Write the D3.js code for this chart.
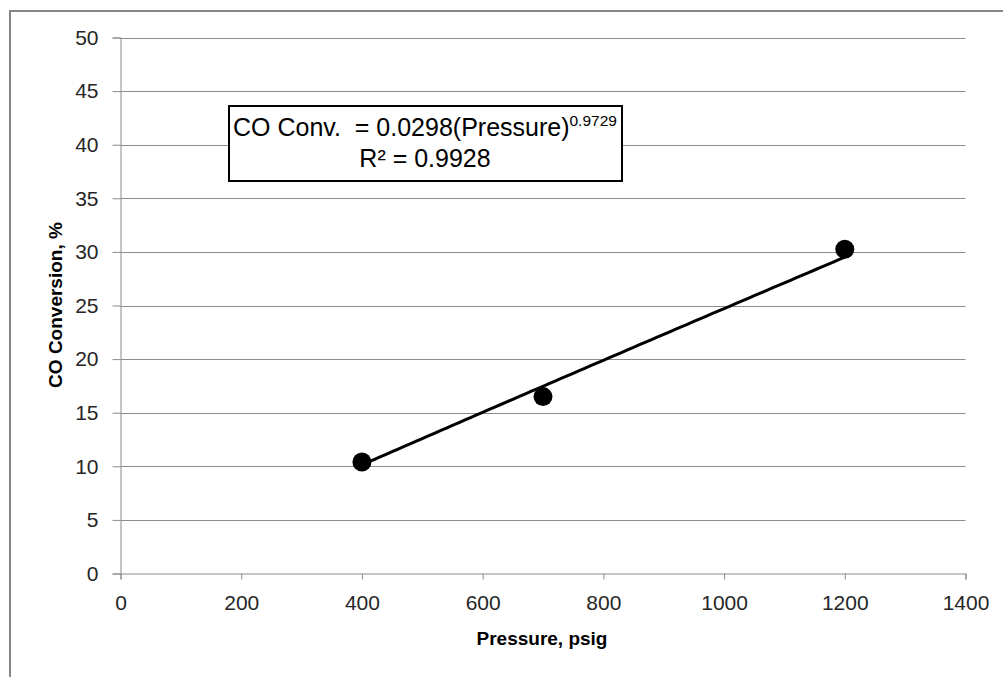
<!DOCTYPE html>
<html>
<head>
<meta charset="utf-8">
<script src="https://cdn.jsdelivr.net/npm/d3@7"></script>
<style>
  html, body { margin: 0; padding: 0; background: #fff; }
  svg { display: block; }
  text { font-family: "Liberation Sans", Arial, sans-serif; }
</style>
</head>
<body>
<script>
// ---- data ----
const pressure = [400, 700, 1200];
const conversion = [10.4, 16.5, 30.25];
const xTickValues = [0, 200, 400, 600, 800, 1000, 1200, 1400];
const yTickValues = [0, 5, 10, 15, 20, 25, 30, 35, 40, 45, 50];
const fitCoef = 0.0298;
const fitExp = 0.9729;
const rSquared = "0.9928";
const xTitle = "Pressure, psig";
const yTitle = "CO Conversion, %";

const W = 1003, H = 677;
const svg = d3.select("body").append("svg").attr("width", W).attr("height", H);

// outer chart border (only left & top visible)
svg.append("rect").attr("x", 10).attr("y", 11).attr("width", 1100).attr("height", 800)
  .attr("fill", "none").attr("stroke", "#868686").attr("stroke-width", 2);

const x = d3.scaleLinear().domain([0, 1400]).range([120.5, 965.5]);
const y = d3.scaleLinear().domain([0, 50]).range([573.5, 37.5]);

const grid = "#8c8c8c";

// horizontal gridlines
svg.append("g").selectAll("line").data(yTickValues.filter(d => d > 0)).join("line")
  .attr("x1", x(0)).attr("x2", x(1400))
  .attr("y1", d => Math.round(y(d)) + 0.5).attr("y2", d => Math.round(y(d)) + 0.5)
  .attr("stroke", grid).attr("stroke-width", 1);

// y axis
const yAxis = svg.append("g").attr("transform", `translate(${x(0)},0)`)
  .call(d3.axisLeft(y).tickValues(yTickValues).tickSize(8).tickPadding(14).tickFormat(d3.format("d")));
// x axis
const xAxis = svg.append("g").attr("transform", `translate(0,${y(0)})`)
  .call(d3.axisBottom(x).tickValues(xTickValues).tickSize(6).tickPadding(16).tickFormat(d3.format("d")));

[xAxis, yAxis].forEach(g => {
  g.select(".domain").attr("stroke", grid).attr("stroke-width", 1);
  g.selectAll(".tick line").attr("stroke", grid).attr("stroke-width", 1);
  g.selectAll(".tick text").attr("fill", "#262626").attr("font-size", 21)
    .style("font-family", "'Liberation Sans', Arial, sans-serif");
});

// trendline from displayed power-fit equation
const fitX = d3.range(400, 1200.001, 10);
const line = d3.line().x(d => x(d)).y(d => y(fitCoef * Math.pow(d, fitExp)));
svg.append("path").datum(fitX).attr("d", line)
  .attr("fill", "none").attr("stroke", "#000").attr("stroke-width", 3);

// data points
svg.append("g").selectAll("circle").data(pressure).join("circle")
  .attr("cx", (d) => x(d)).attr("cy", (d, i) => y(conversion[i]))
  .attr("r", 9.5).attr("fill", "#000");

// axis titles
svg.append("text").attr("x", 542).attr("y", 645).attr("text-anchor", "middle")
  .attr("font-weight", "bold").attr("font-size", 19).attr("fill", "#000").text(xTitle);
svg.append("text").attr("transform", "translate(62,305) rotate(-90)").attr("text-anchor", "middle")
  .attr("font-weight", "bold").attr("font-size", 19).attr("fill", "#000").text(yTitle);

// equation box
svg.append("rect").attr("x", 229).attr("y", 106).attr("width", 393).attr("height", 75)
  .attr("fill", "#fff").attr("stroke", "#000").attr("stroke-width", 2);
const eq = svg.append("text").attr("x", 233).attr("y", 136).attr("font-size", 25).attr("fill", "#000");
eq.append("tspan").text("CO Conv.\u00A0 = " + fitCoef.toFixed(4) + "(Pressure)");
eq.append("tspan").attr("dy", -10).attr("font-size", 15.5).text(String(fitExp));
svg.append("text").attr("x", 425).attr("y", 167).attr("text-anchor", "middle")
  .attr("font-size", 25).attr("fill", "#000").text("R² = " + rSquared);
</script>
</body>
</html>
